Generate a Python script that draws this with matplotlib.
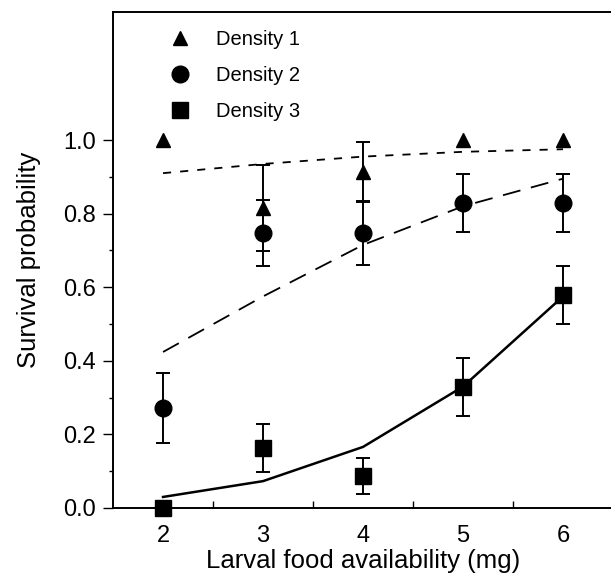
import matplotlib
matplotlib.use('Agg')
import matplotlib.pyplot as plt
from matplotlib.lines import Line2D
from matplotlib.ticker import FixedLocator
import numpy as np

plt.rcParams['font.family'] = ['Liberation Sans', 'DejaVu Sans']

# Data
food = [2, 3, 4, 5, 6]

surv_d1 = [1.0, 0.815, 0.913, 1.0, 1.0]
err_d1 = [0.0, 0.117, 0.082, 0.0, 0.0]
surv_d2 = [0.272, 0.747, 0.747, 0.829, 0.829]
err_d2 = [0.095, 0.089, 0.087, 0.078, 0.078]
surv_d3 = [0.0, 0.163, 0.087, 0.329, 0.579]
err_d3 = [0.0, 0.065, 0.05, 0.078, 0.078]

# model predictions
fit_d1 = [0.91, 0.935, 0.955, 0.968, 0.975]
fit_d2 = [0.424, 0.575, 0.715, 0.82, 0.895]
fit_d3 = [0.03, 0.073, 0.166, 0.33, 0.575]

labels = ['Density 1', 'Density 2', 'Density 3']

fig = plt.figure(figsize=(6.11, 5.77), dpi=100)
ax = fig.add_axes([0.185, 0.1196, 0.8183, 0.8596])

# fitted lines
ax.plot(food, fit_d1, color='black', lw=1.3, linestyle=(0, (4.5, 5)))
ax.plot(food, fit_d2, color='black', lw=1.3, linestyle=(0, (10, 6)))
ax.plot(food, fit_d3, color='black', lw=1.8, linestyle='-')

# error bars (only where there is an error)
for y, e in [(surv_d1, err_d1), (surv_d2, err_d2), (surv_d3, err_d3)]:
    y = np.array(y)
    e = np.array(e)
    m = e > 0
    ax.errorbar(np.array(food)[m], y[m], yerr=e[m], fmt='none', ecolor='black',
                elinewidth=1.4, capsize=4.8, capthick=1.4, zorder=3)

# points
ax.plot(food, surv_d1, linestyle='none', marker='^', ms=10.5, color='black', zorder=4, clip_on=False)
ax.plot(food, surv_d2, linestyle='none', marker='o', ms=12, color='black', zorder=4, clip_on=False)
ax.plot(food, surv_d3, linestyle='none', marker='s', ms=12, color='black', zorder=4, clip_on=False)

ax.set_xlim(1.5, 6.5)
ax.set_ylim(0.0, 1.348)

ax.xaxis.set_major_locator(FixedLocator(food))
ax.xaxis.set_minor_locator(FixedLocator([2.5, 3.5, 4.5, 5.5]))
ax.yaxis.set_major_locator(FixedLocator([0.0, 0.2, 0.4, 0.6, 0.8, 1.0]))
ax.yaxis.set_minor_locator(FixedLocator([0.1, 0.3, 0.5, 0.7, 0.9]))
ax.set_yticklabels(['0.0', '0.2', '0.4', '0.6', '0.8', '1.0'])

ax.tick_params(axis='x', which='major', length=0, pad=12, labelsize=17)
ax.tick_params(axis='x', which='minor', direction='in', length=5, width=1)
ax.tick_params(axis='y', which='major', direction='out', length=7, width=1, pad=5, labelsize=17)
ax.tick_params(axis='y', which='minor', direction='out', length=3, width=1)

ax.spines['right'].set_visible(False)
for s in ['left', 'bottom', 'top']:
    ax.spines[s].set_linewidth(1.4)

ax.set_xlabel('Larval food availability (mg)', fontsize=18.5, labelpad=2)
ax.set_ylabel('Survival probability', fontsize=18.5, labelpad=16)

handles = [Line2D([], [], linestyle='none', marker='^', ms=10.5, color='black'),
           Line2D([], [], linestyle='none', marker='o', ms=12, color='black'),
           Line2D([], [], linestyle='none', marker='s', ms=11, color='black')]
ax.legend(handles, labels, loc='upper left', bbox_to_anchor=(0.065, 0.993), frameon=False,
          fontsize=14.5, labelspacing=0.85, handletextpad=0.8, borderaxespad=0.3)

fig.savefig('out.png', dpi=100)
